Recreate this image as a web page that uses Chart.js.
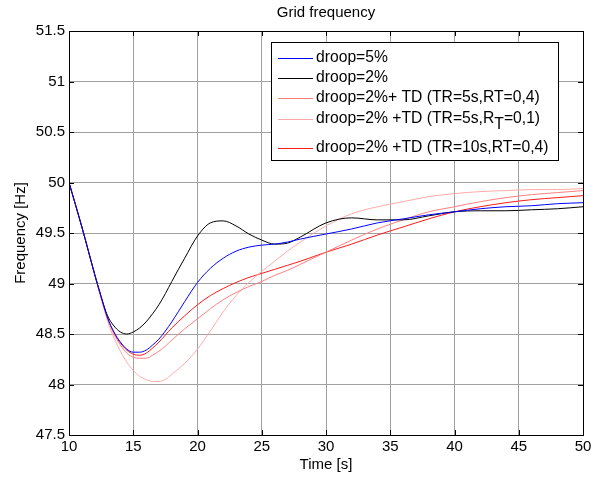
<!DOCTYPE html>
<html>
<head>
<meta charset="utf-8">
<title>Grid frequency</title>
<script src="https://cdn.jsdelivr.net/npm/chart.js@4"></script>
<style>
  body { margin: 0; background: #fff; }
  canvas { display: block; }
</style>
</head>
<body>
<canvas id="graficFreq" width="597" height="479"></canvas>
<script>
// dados (tempo em s, frequencia em Hz)
let tempo = [10, 11, 12, 12.5, 13, 13.5, 14, 14.5, 15, 15.5, 16, 16.5, 17, 17.5, 18, 19, 20, 21, 22, 23, 24, 25, 26, 27, 28, 30, 32, 34, 36, 38, 40, 42, 44, 46, 48, 50]

let droop5 = [50, 49.56, 49.09, 48.87, 48.66, 48.52, 48.42, 48.35, 48.32, 48.32, 48.34, 48.39, 48.45, 48.53, 48.62, 48.82, 49.01, 49.15, 49.25, 49.32, 49.36, 49.38, 49.39, 49.41, 49.44, 49.49, 49.54, 49.60, 49.64, 49.68, 49.71, 49.74, 49.76, 49.77, 49.79, 49.80]
let droop2 = [50, 49.56, 49.09, 48.87, 48.68, 48.58, 48.52, 48.50, 48.52, 48.56, 48.62, 48.70, 48.79, 48.90, 49.02, 49.25, 49.47, 49.60, 49.62, 49.57, 49.49, 49.43, 49.39, 49.40, 49.46, 49.60, 49.65, 49.63, 49.63, 49.67, 49.71, 49.72, 49.72, 49.73, 49.74, 49.76]
let td5s04 = [50, 49.56, 49.09, 48.86, 48.65, 48.50, 48.39, 48.31, 48.27, 48.26, 48.26, 48.29, 48.33, 48.38, 48.44, 48.55, 48.65, 48.75, 48.84, 48.91, 48.97, 49.02, 49.08, 49.13, 49.19, 49.31, 49.43, 49.54, 49.63, 49.71, 49.76, 49.81, 49.85, 49.88, 49.90, 49.92]
let td5s01 = [50, 49.56, 49.09, 48.85, 48.63, 48.46, 48.33, 48.22, 48.14, 48.08, 48.05, 48.03, 48.03, 48.05, 48.10, 48.21, 48.35, 48.53, 48.72, 48.88, 49.01, 49.12, 49.22, 49.32, 49.41, 49.57, 49.69, 49.76, 49.81, 49.86, 49.89, 49.91, 49.92, 49.93, 49.93, 49.94]
let td10s04 = [50, 49.56, 49.09, 48.86, 48.66, 48.51, 48.41, 48.34, 48.30, 48.29, 48.31, 48.36, 48.42, 48.49, 48.56, 48.68, 48.79, 48.88, 48.95, 49.01, 49.06, 49.10, 49.14, 49.18, 49.22, 49.31, 49.39, 49.48, 49.56, 49.64, 49.71, 49.76, 49.80, 49.83, 49.85, 49.87]

let xTicks = [10, 15, 20, 25, 30, 35, 40, 45, 50]
let yTicks = [47.5, 48, 48.5, 49, 49.5, 50, 50.5, 51, 51.5]

let nomes = ['droop=5%', 'droop=2%', 'droop=2%+ TD (TR=5s,RT=0,4)', 'droop=2% +TD (TR=5s,RT=0,1)', 'droop=2% +TD (TR=10s,RT=0,4)']
let series = [droop5, droop2, td5s04, td5s01, td10s04]
let cores = ['#0000ff', '#000000', '#ff7f7f', '#ffaaaa', '#ff1a1a']

let fonte = '"Liberation Sans", Arial, sans-serif'

function pontos(ys) {
  return tempo.map((t, i) => ({ x: t, y: ys[i] }))
}

// titulo, eixos, caixa, ticks internos e legenda
let extras = {
  id: 'extras',
  afterDraw(chart) {
    let ctx = chart.ctx
    let a = chart.chartArea
    ctx.save()

    ctx.strokeStyle = '#000'
    ctx.lineWidth = 1
    ctx.strokeRect(a.left + 0.5, a.top + 0.5, a.right - a.left, a.bottom - a.top)

    // ticks para dentro
    let sx = chart.scales.x, sy = chart.scales.y
    ctx.beginPath()
    xTicks.forEach(v => {
      let px = Math.round(sx.getPixelForValue(v)) + 0.5
      ctx.moveTo(px, a.bottom); ctx.lineTo(px, a.bottom - 5)
      ctx.moveTo(px, a.top); ctx.lineTo(px, a.top + 5)
    })
    yTicks.forEach(v => {
      let py = Math.round(sy.getPixelForValue(v)) + 0.5
      ctx.moveTo(a.left, py); ctx.lineTo(a.left + 5, py)
      ctx.moveTo(a.right, py); ctx.lineTo(a.right - 5, py)
    })
    ctx.stroke()

    ctx.fillStyle = '#000'
    ctx.font = '15px ' + fonte
    ctx.textAlign = 'center'
    ctx.textBaseline = 'middle'
    ctx.fillText('Grid frequency', (a.left + a.right) / 2, 13)
    ctx.fillText('Time [s]', (a.left + a.right) / 2, 465)

    ctx.save()
    ctx.translate(21, (a.top + a.bottom) / 2)
    ctx.rotate(-Math.PI / 2)
    ctx.fillText('Frequency [Hz]', 0, 0)
    ctx.restore()

    // legenda
    let bx = 271, by = 42, bw = 287, bh = 118
    ctx.fillStyle = '#fff'
    ctx.fillRect(bx, by, bw, bh)
    ctx.strokeStyle = '#000'
    ctx.strokeRect(bx + 0.5, by + 0.5, bw, bh)

    let linhas = [57.5, 77.5, 98, 118.5, 147.5]
    ctx.textAlign = 'left'
    nomes.forEach((n, i) => {
      let y = linhas[i]
      ctx.strokeStyle = cores[i]
      ctx.lineWidth = 1
      ctx.beginPath()
      ctx.moveTo(278, Math.round(y) + 0.5)
      ctx.lineTo(313, Math.round(y) + 0.5)
      ctx.stroke()

      ctx.fillStyle = '#000'
      ctx.font = '15.7px ' + fonte
      if (i == 3) {
        // R com T subscrito
        let p1 = 'droop=2% +TD (TR=5s,R'
        ctx.fillText(p1, 316, y)
        let w1 = ctx.measureText(p1).width
        ctx.fillText('T', w1 + 316, y + 6)
        let w2 = ctx.measureText('T').width
        ctx.fillText('=0,1)', w1 + w2 + 316, y)
      } else {
        ctx.fillText(n, 316, y)
      }
    })
    ctx.restore()
  }
}

new Chart(document.getElementById('graficFreq'), {
  type: 'line',
  data: {
    datasets: series.map((s, i) => ({
      label: nomes[i],
      data: pontos(s),
      borderColor: cores[i],
      borderWidth: 1,
      pointRadius: 0,
      fill: false,
      cubicInterpolationMode: 'monotone'
    }))
  },
  options: {
    responsive: false,
    animation: false,
    layout: { padding: { top: 31, right: 14, left: 0, bottom: 0 } },
    plugins: {
      legend: { display: false },
      tooltip: { enabled: false }
    },
    scales: {
      x: {
        type: 'linear',
        min: 10,
        max: 50,
        afterBuildTicks: s => { s.ticks = xTicks.map(v => ({ value: v })) },
        afterFit: s => { s.height = 44 },
        grid: { color: '#a0a0a0', drawTicks: false },
        border: { color: '#000' },
        ticks: { color: '#000', padding: 3, maxRotation: 0, font: { family: fonte, size: 15 }, callback: v => String(v) }
      },
      y: {
        min: 47.5,
        max: 51.5,
        afterBuildTicks: s => { s.ticks = yTicks.map(v => ({ value: v })) },
        afterFit: s => { s.width = 69 },
        grid: { color: '#a0a0a0', drawTicks: false },
        border: { color: '#000' },
        ticks: { color: '#000', padding: 4, font: { family: fonte, size: 15 }, callback: v => String(v) }
      }
    }
  },
  plugins: [extras]
})
</script>
</body>
</html>
